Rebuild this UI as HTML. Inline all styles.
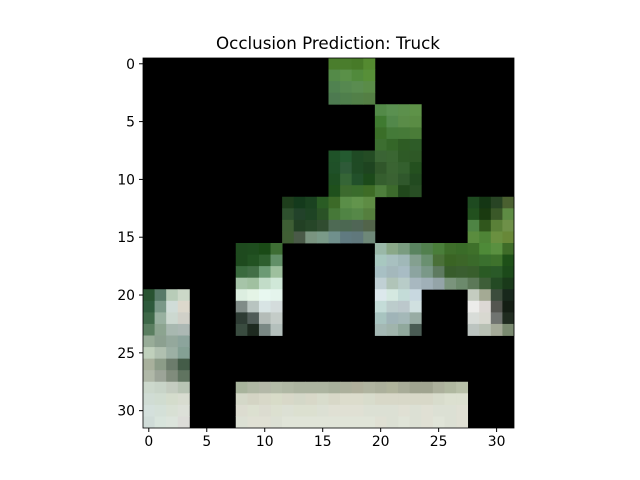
<!DOCTYPE html>
<html><head><meta charset="utf-8"><style>
body{margin:0;background:#fff;}
svg{display:block;font-family:"DejaVu Sans","Liberation Sans",sans-serif;}
</style></head><body>
<svg id="chart" width="640" height="480">
<rect width="640" height="480" fill="#fff"/>
<text x="328" y="49" text-anchor="middle" font-size="16.7">Occlusion Prediction: Truck</text>
<g id="img"></g>
<g id="axes"></g>
</svg>
<script>
const gridSize = 32;
const xTicks = [0,5,10,15,20,25,30];
const yTicks = [0,5,10,15,20,25,30];
const block1 = [0,16,[
["#4a7d2c","#4a7d2c","#477a28","#548a30"],
["#548a48","#5a9048","#518a3c","#578f38"],
["#508250","#568850","#5a8c50","#5a8c48"],
["#4d7a50","#4f7f4c","#528048","#547f44"]]];
const block2 = [4,20,[
["#538a48","#5a9050","#5c904c","#5e9248"],
["#3f7a30","#52884a","#5a8c48","#5a8c44"],
["#3a6e28","#447a38","#467a38","#4a7c38"],
["#3c6e30","#346628","#2e5c24","#2e5c28"]]];
const block3 = [8,16,[
["#1f5228","#245a30","#1f4a24","#244c24","#3a6434","#3a6632","#2e5a26","#2e5826"],
["#1f5028","#2e5a38","#1f4a24","#1e4420","#30562a","#3a6432","#34602e","#24501f"],
["#1e4e22","#356536","#22502a","#1c4a1a","#355e2e","#3a6232","#30582c","#224a20"],
["#1f501c","#3c6a2e","#3a6c2c","#3e6c26","#4e7e3c","#3c6a2c","#21481c","#284e24"]]];
const block4 = [12,12,[
["#1e3e1c","#143a1c","#1a4220","#2a5c24","#3c6a28","#5a8e48","#62944c","#5e8c44"],
["#2e502e","#22422a","#1e4424","#2a5226","#467838","#508444","#568848","#557f3e"],
["#3e5e34","#224024","#264628","#304c30","#4e6a54","#4c6852","#506656","#52644a"],
["#405e34","#4a5a48","#7a9480","#7a9a88","#70908c","#607a80","#60787c","#6e8878"]]];
const block5 = [12,28,[
["#1e4a20","#143614","#284424","#4a6030"],
["#22501e","#1a3a10","#3a5828","#5e8c44"],
["#4e8444","#30561c","#5a8038","#6e9048"],
["#5a8c3e","#4e8436","#6a9040","#688838"]]];
const block6 = [16,8,[
["#1e4a1e","#1e4c1e","#1a4a16","#3e6e34"],
["#1e4a1e","#225222","#2e5e2e","#629068"],
["#3a6a3e","#426e46","#6c9a74","#9ec09e"],
["#a6c4a8","#a0c0a0","#c2dcc8","#d0e8d8"],
["#dceee0","#e4f4e6","#e8f8f0","#e4f4ec"],
["#808c88","#b8c4c0","#d8e4e4","#d4dcdc"],
["#2e3c34","#505c58","#b4bcb8","#c4ccc8"],
["#3a4c40","#1e2a20","#7a8884","#b4c0bc"]]];
const block7 = [16,20,[
["#9ab8a8","#8aa888","#7a9c80","#5a8460","#52804e","#4a7e3a","#3e6e2a","#3a6c28","#3e702a","#4e8a38","#5a9040","#3e6c28"],
["#a8c8c0","#a8c0c0","#a0b8b8","#84a090","#6a9070","#4a7038","#3a6424","#3c6628","#3a6a2a","#3a702e","#3e722c","#1e5018"],
["#a8c0c4","#a4b8bc","#a8bcc4","#8ca4a0","#7a9888","#5e7a60","#385c2c","#3a5e30","#385e2c","#2a5a24","#2a5a28","#1c4a1a"],
["#c0d0d4","#b0c4b8","#b8ccc8","#a8b8c0","#a0b0b8","#94a4a8","#7a947c","#6c8a6c","#5c7858","#3e5e38","#244a24","#1a3a1a"]]];
const block8 = [20,20,[
["#dce8ec","#d4e8e0","#c4dcd8","#c8d8e0"],
["#c4dcd8","#bccccc","#bcc8cc","#d0e0e0"],
["#a8c4c0","#a0b4b8","#a4b8b8","#98aca4"],
["#a4b8b4","#a0b4ac","#90a89c","#4a5c54"]]];
const block9 = [20,28,[
["#c4ccc0","#a4aa94","#3c4c3c","#18281c"],
["#ececea","#dcd8d4","#545650","#141e14"],
["#d8dcd8","#d8d8d0","#707470","#202c20"],
["#bcc4c0","#b8c0b4","#a4aa98","#7a8a70"]]];
const block10 = [20,0,[
["#285230","#587a68","#b8ccb8","#ccd8c8"],
["#2e5a3c","#7a9888","#d0dcd8","#dcd8cc"],
["#3e6848","#98b0a0","#ccd8d0","#d0d0c8"],
["#5a7e60","#8ca490","#a8b8b0","#acb8b4"],
["#98ac98","#8ca090","#94a89c","#8ca49c"],
["#c0d0bc","#b0c0b0","#9cb0a4","#84a094"],
["#a8b09c","#8c9c88","#6c7c6c","#445c48"],
["#b0b8a8","#9ca498","#808c7c","#607460"],
["#ccd8cc","#c8d4c8","#c4ccc0","#b8c4b4"],
["#d0dcd4","#d0dcd0","#d4dccc","#d8dcd0"],
["#d4e0dc","#d4e0d8","#d8e0d4","#dce0d8"],
["#d0dcd8","#d8e4dc","#dce4dc","#dcdcd8"]]];
const block11 = [28,8,[
["#a8b49c","#b0b8a4","#b4b8a8","#b4bca8","#b0b8a4","#acb4a0","#acb4a0","#acb4a0","#a8b09c","#acb09c","#b0b09c","#b0b4a0","#acb09c","#b0b49c","#a8ac98","#a0a490","#a0a490","#acb09c","#b0b8a0","#b8c0a8"],
["#d4d8c8","#d4d4c4","#d8d8c8","#d8dcc8","#d8d8c8","#d4d8c8","#d8d8c8","#d8dccc","#d8d8c8","#dcdccc","#dcdccc","#d8dccc","#d8d8c8","#d8d8c8","#d8d8c8","#d8d8c8","#d8d8c8","#d8dccc","#dce0d0","#dce0d0"],
["#dcdcd0","#dce0d0","#dcdcd0","#dce0d0","#dce0d4","#dce0d0","#dce0d0","#dce0d4","#e0e0d4","#e0e0d4","#e0e0d4","#dce0d4","#dce0d4","#dce0d4","#e0e0d4","#dce0d4","#e0e0d4","#dce0d4","#dce0d4","#e0e0d4"],
["#dce0d4","#e0e0d4","#e0e0d4","#dce0d4","#e0e4d8","#e0e4d8","#e0e4d8","#e0e4d8","#e0e4d8","#e0e4d8","#e0e4d8","#e0e4d8","#e0e0d4","#dce0d4","#e0e4d8","#dce0d4","#e0e0d4","#e0e4d8","#dce0d4","#e0e0d4"]]];
const blocks = [block1,block2,block3,block4,block5,block6,block7,block8,block9,block10,block11];

const X0=143, Y0=58, W=371, H=370;
const cw=W/gridSize, ch=H/gridSize;
const sx = c => X0 + c*cw;
const sy = r => Y0 + r*ch;
const NS="http://www.w3.org/2000/svg";
const img=document.getElementById('img');
const ax=document.getElementById('axes');
const bg=document.createElementNS(NS,'rect');
bg.setAttribute('x',X0);bg.setAttribute('y',Y0);bg.setAttribute('width',W);bg.setAttribute('height',H);bg.setAttribute('fill','#000');


img.appendChild(bg);
blocks.forEach(b=>{
  const [r0,c0,rows]=b;
  rows.forEach((row,i)=>row.forEach((col,j)=>{
    const r=document.createElementNS(NS,'rect');
    r.setAttribute('x',sx(c0+j));r.setAttribute('y',sy(r0+i));
    r.setAttribute('width',cw+0.4);r.setAttribute('height',ch+0.4);
    r.setAttribute('fill',col);
    
    
    img.appendChild(r);
  }));
});
const frame=document.createElementNS(NS,'rect');
frame.setAttribute('x',X0);frame.setAttribute('y',Y0);frame.setAttribute('width',W);frame.setAttribute('height',H);
frame.setAttribute('fill','none');frame.setAttribute('stroke','#000');frame.setAttribute('stroke-width','0.8');


ax.appendChild(frame);
xTicks.forEach(v=>{
  const x=sx(v+0.5);
  const l=document.createElementNS(NS,'line');
  l.setAttribute('x1',x);l.setAttribute('x2',x);l.setAttribute('y1',Y0+H);l.setAttribute('y2',Y0+H+4);l.setAttribute('stroke','#000');
  
  
  ax.appendChild(l);
  const t=document.createElementNS(NS,'text');
  t.setAttribute('x',x);t.setAttribute('y',Y0+H+18);t.setAttribute('text-anchor','middle');t.setAttribute('font-size','13.9');
  t.textContent=v;
  
  
  ax.appendChild(t);
});
yTicks.forEach(v=>{
  const y=sy(v+0.5);
  const l=document.createElementNS(NS,'line');
  l.setAttribute('x1',X0-4);l.setAttribute('x2',X0);l.setAttribute('y1',y);l.setAttribute('y2',y);l.setAttribute('stroke','#000');
  
  
  ax.appendChild(l);
  const t=document.createElementNS(NS,'text');
  t.setAttribute('x',X0-8);t.setAttribute('y',y+5);t.setAttribute('text-anchor','end');t.setAttribute('font-size','13.9');
  t.textContent=v;
  
  
  ax.appendChild(t);
});
</script>
</body></html>
